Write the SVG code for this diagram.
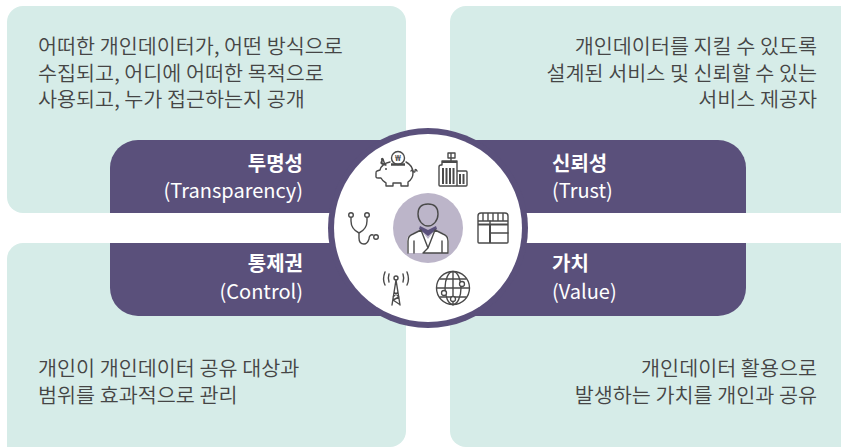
<svg xmlns="http://www.w3.org/2000/svg" width="841" height="447" viewBox="0 0 841 447">
<style>
.t{font-family:"Noto Sans CJK KR","Noto Sans",sans-serif;font-size:20.700px;font-weight:350;fill:#454545}
.h{font-family:"Noto Sans CJK KR","Noto Sans",sans-serif;font-size:20px;fill:#fff;font-weight:700}
.e{font-family:"Noto Sans CJK KR","Noto Sans",sans-serif;font-size:20px;fill:#fff}
.e2{text-anchor:end}
.p{fill:#d6ece8}.b{fill:#5a507b}
.i{fill:none;stroke:#4a4a4a;stroke-width:1.400;stroke-linecap:round;stroke-linejoin:round}
</style>
<rect width="841" height="447" fill="#fff"/>
<g id="panels">
<path class="p" d="M7 22a16 16 0 0 1 16-16H390a16 16 0 0 1 16 16V213H23a16 16 0 0 1-16-16Z"/>
<path class="p" d="M450 22a16 16 0 0 1 16-16H841a16 16 0 0 1 16 16V197a16 16 0 0 1-16 16H450Z"/>
<path class="p" d="M7 259a16 16 0 0 1 16-16H406V431a16 16 0 0 1-16 16H7Z"/>
<path class="p" d="M450 243H841a16 16 0 0 1 16 16V447H466a16 16 0 0 1-16-16Z"/>
</g>
<g id="bars">
<path class="b" d="M110 213V168a28 28 0 0 1 28-28H428V213Z"/>
<path class="b" d="M110 243V288a28 28 0 0 0 28 28H428V243Z"/>
<path class="b" d="M746 213V168a28 28 0 0 0-28-28H428V213Z"/>
<path class="b" d="M746 243V288a28 28 0 0 1-28 28H428V243Z"/>
</g>
<g id="node-hub">
<circle cx="428" cy="228" r="100" fill="#5a507b"/>
<circle cx="428" cy="228" r="94" fill="#fff"/>
<circle cx="428" cy="228" r="35" fill="#bcb5c9"/>
</g>
<g id="node-person">
<path d="M407 253V241c0-4 2-6 5-7l9-4 7 9 7-9 9 4c3 1 5 3 5 7v12Z" fill="#fff"/>
<path d="M420 226l8 4 8-4 1 3-9 7-9-7Z" fill="#5a507b"/>
<path class="i" d="M418 214c0-7 4-10 10-10s10 3 10 10c0 7-5 12-10 12s-10-5-10-12Z"/>
<path class="i" d="M408 253V241c0-4 2-6 5-7l8-4 7 18 7-18 8 4c3 1 5 3 5 7v12H424M428 248l-5 5M414 241v12M442 241v12"/>
</g>
<g id="node-piggy">
<path class="i" d="M385 165l-2-6c-1-1-2 0-1 1 0 0 0 4 0 4M382 160l-1 3 5 2M390 162c-5 1-9 4-10 8l-3 1c-1 0-1 1-1 2v4c0 1 1 1 2 1h3c1 2 3 4 5 5v3h7v-3h8v3h7v-4c3-2 5-5 5-9 0-5-3-9-7-11"/>
<circle class="i" cx="398" cy="158" r="6.500"/>
<text x="398" y="161" font-family="Noto Sans" font-size="8" font-weight="700" text-anchor="middle" fill="#4a4a4a">₩</text>
<path d="M391 164.500h14" stroke="#4a4a4a" stroke-width="2.500" fill="none"/>
<path class="i" d="M411 171c1-2 2-1 2 0s2 2 2 0 1-2 2 0"/>
<circle cx="386" cy="169" r="1" fill="#4a4a4a"/>
</g>
<g id="node-building">
<path class="i" d="M439 185V167a2 2 0 0 1 2-2h1v-4h15v10h9a1 1 0 0 1 1 1v13a1 1 0 0 1-1 1H440a1 1 0 0 1-1-1ZM457 171v15M451 161v-8M448 153h7v5h-7Z"/>
<path d="M442 168h2v16h-2ZM445.500 168h2v16h-2ZM449 168h2v16h-2ZM452.500 168h2v16h-2ZM459 174h2v10h-2ZM462.500 174h2v10h-2Z" fill="#4a4a4a"/>
<path d="M442 161h15v2h-15Z" fill="#4a4a4a"/>
</g>
<g id="node-table">
<path class="i" d="M478 242V216a3 3 0 0 1 3-3h24a3 3 0 0 1 3 3v26a1 1 0 0 1-1 1H479a1 1 0 0 1-1-1ZM483 213v7M488 213v7M493 213v7M498 213v7M503 213v7M478 221h30"/>
<path d="M478 224.500h30" stroke="#4a4a4a" stroke-width="2"/>
<path d="M490 224v19" stroke="#4a4a4a" stroke-width="2"/>
<path class="i" d="M490 233h18M490 221v4"/>
</g>
<g id="node-stethoscope">
<circle class="i" cx="351" cy="215" r="2.300"/><circle class="i" cx="367" cy="215" r="2.300"/><circle class="i" cx="376" cy="237" r="2.300"/>
<path class="i" d="M351 218v3c0 6 4 10 8 12 4-2 8-6 8-12v-3M359 233v5c0 4 2 6 5 6 3 0 4-2 5-5 0-3 2-5 4-4"/>
</g>
<g id="node-antenna">
<path class="i" d="M392 305l4-25 4 25M394 292l5 5M398 292l-5 5M393 300l6-3M393 300l6 4"/>
<circle class="i" cx="396" cy="278" r="2"/>
<path class="i" d="M389 274c-1 3-1 5 0 8M403 274c1 3 1 5 0 8M385 272c-2 5-2 9 0 13M407 272c2 5 2 9 0 13"/>
</g>
<g id="node-globe">
<circle class="i" cx="453" cy="288" r="16.500"/>
<ellipse class="i" cx="453" cy="288" rx="8" ry="16.500"/>
<path class="i" d="M437 288h32M440 279h26M440 297h26M453 272v33"/>
<circle cx="462" cy="284" r="2.500" fill="#fff" stroke="#4a4a4a" stroke-width="1.300"/>
<circle cx="444" cy="293" r="2.500" fill="#fff" stroke="#4a4a4a" stroke-width="1.300"/>
<circle cx="453" cy="299" r="2.500" fill="#fff" stroke="#4a4a4a" stroke-width="1.300"/>
</g>
<g id="node-transparency">
<text class="e2"><tspan class="h" x="303" y="171">투명성</tspan><tspan class="e" x="303" y="198">(Transparency)</tspan></text>
<text class="t"><tspan x="38" y="54">어떠한 개인데이터가, 어떤 방식으로</tspan><tspan x="38" y="81">수집되고, 어디에 어떠한 목적으로</tspan><tspan x="38" y="107">사용되고, 누가 접근하는지 공개</tspan></text>
</g>
<g id="node-trust">
<text><tspan class="h" x="552" y="171">신뢰성</tspan><tspan class="e" x="552" y="198">(Trust)</tspan></text>
<text class="t e2"><tspan x="817" y="54">개인데이터를 지킬 수 있도록</tspan><tspan x="817" y="81">설계된 서비스 및 신뢰할 수 있는</tspan><tspan x="817" y="107">서비스 제공자</tspan></text>
</g>
<g id="node-control">
<text class="e2"><tspan class="h" x="303" y="271">통제권</tspan><tspan class="e" x="303" y="299">(Control)</tspan></text>
<text class="t"><tspan x="38" y="376">개인이 개인데이터 공유 대상과</tspan><tspan x="38" y="403">범위를 효과적으로 관리</tspan></text>
</g>
<g id="node-value">
<text><tspan class="h" x="552" y="271">가치</tspan><tspan class="e" x="552" y="299">(Value)</tspan></text>
<text class="t e2"><tspan x="817" y="376">개인데이터 활용으로</tspan><tspan x="817" y="403">발생하는 가치를 개인과 공유</tspan></text>
</g>
</svg>
